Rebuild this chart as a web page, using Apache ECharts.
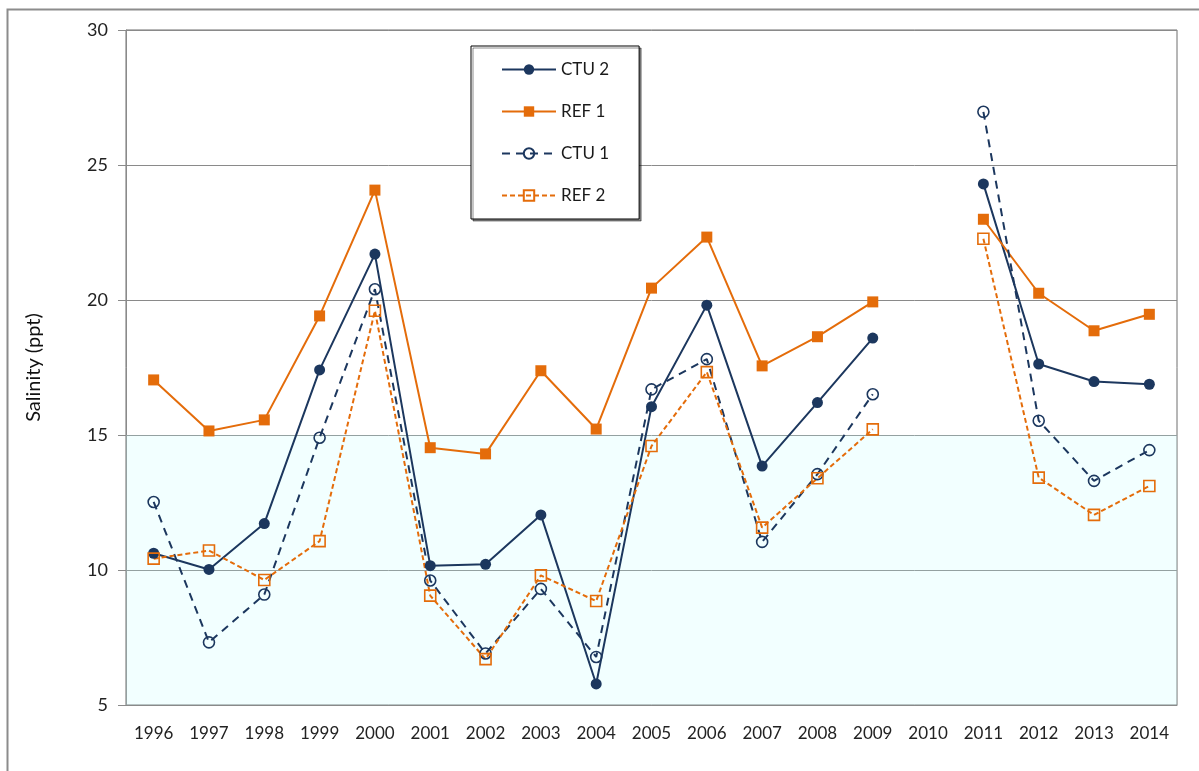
<!DOCTYPE html>
<html>
<head>
<meta charset="utf-8">
<script src="https://cdn.jsdelivr.net/npm/echarts@6/dist/echarts.min.js"></script>
<style>
html,body{margin:0;padding:0;background:#fff;}
#chart{width:1199px;height:771px;}
</style>
</head>
<body>
<div id="chart"></div>
<script>
const years = ['1996','1997','1998','1999','2000','2001','2002','2003','2004','2005','2006','2007','2008','2009','2010','2011','2012','2013','2014'];
const ctu2 = [10.62, 10.02, 11.72, 17.41, 21.70, 10.16, 10.21, 12.04, 5.78, 16.05, 19.81, 13.85, 16.20, 18.59, null, 24.30, 17.63, 16.98, 16.88];
const ref1 = [17.04, 15.15, 15.56, 19.41, 24.07, 14.53, 14.30, 17.38, 15.22, 20.44, 22.33, 17.56, 18.64, 19.93, null, 22.99, 20.25, 18.86, 19.47];
const ctu1 = [12.52, 7.32, 9.09, 14.90, 20.40, 9.61, 6.91, 9.30, 6.78, 16.69, 17.81, 11.04, 13.55, 16.51, null, 26.97, 15.53, 13.30, 14.44];
const ref2 = [10.42, 10.72, 9.63, 11.07, 19.60, 9.05, 6.70, 9.80, 8.85, 14.59, 17.33, 11.57, 13.40, 15.21, null, 22.27, 13.42, 12.04, 13.11];
const bandRange = [5, 15];

const NAVY = '#1c375e';
const ORANGE = '#e46c0a';
const FONT = 'Lato, "Open Sans", sans-serif';

const chart = echarts.init(document.getElementById('chart'), null, {renderer: 'canvas'});
chart.setOption({
  animation: false,
  backgroundColor: '#fff',
  textStyle: {fontFamily: FONT},
  graphic: [{
    type: 'rect', left: 5, top: 7, z: -10,
    shape: {width: 1260, height: 820},
    style: {fill: 'none', stroke: '#8c8c8c', lineWidth: 2}
  }],
  grid: {left: 126, right: 22, top: 30, bottom: 66, show: true, borderColor: '#6e6e6e', borderWidth: 1, backgroundColor: '#fff'},
  legend: {
    orient: 'vertical', left: 471, top: 46,
    padding: [15, 30, 15, 30],
    itemWidth: 54, itemHeight: 13, itemGap: 25,
    borderColor: '#000', borderWidth: 1, backgroundColor: '#fff',
    shadowColor: 'rgba(0,0,0,0.45)', shadowBlur: 0, shadowOffsetX: 2, shadowOffsetY: 2,
    textStyle: {fontSize: 17, color: '#1a1a1a', fontFamily: FONT},
    data: ['CTU 2', 'REF 1', 'CTU 1', 'REF 2']
  },
  xAxis: {
    type: 'category', data: years, boundaryGap: true,
    axisLine: {lineStyle: {color: '#8a8a8a', width: 1}},
    axisTick: {show: false},
    axisLabel: {fontSize: 17, color: '#222', margin: 20, interval: 0, fontFamily: FONT}
  },
  yAxis: {
    type: 'value', min: 5, max: 30, interval: 5,
    name: 'Salinity (ppt)', nameLocation: 'middle', nameGap: 82, nameRotate: 90,
    nameTextStyle: {fontSize: 20, color: '#111', fontFamily: FONT},
    axisLine: {show: true, lineStyle: {color: '#8a8a8a', width: 1}},
    axisTick: {show: true, length: 8, lineStyle: {color: '#8a8a8a'}},
    axisLabel: {fontSize: 18, color: '#222', margin: 18, fontFamily: FONT},
    splitLine: {lineStyle: {color: '#8a8a8a', width: 1}}
  },
  series: [
    {
      name: 'CTU 2', type: 'line', data: ctu2, z: 3,
      symbol: 'circle', symbolSize: 11,
      lineStyle: {color: NAVY, width: 2},
      itemStyle: {color: NAVY}
    },
    {
      name: 'REF 1', type: 'line', data: ref1, z: 3,
      symbol: 'rect', symbolSize: 11,
      lineStyle: {color: ORANGE, width: 2},
      itemStyle: {color: ORANGE}
    },
    {
      name: 'CTU 1', type: 'line', data: ctu1, z: 3,
      symbol: 'circle', symbolSize: 11,
      lineStyle: {color: NAVY, width: 2, type: [8, 6]},
      itemStyle: {color: 'rgba(255,255,255,0)', borderColor: NAVY, borderWidth: 1.6}
    },
    {
      name: 'REF 2', type: 'line', data: ref2, z: 3,
      symbol: 'rect', symbolSize: 11,
      lineStyle: {color: ORANGE, width: 2, type: [5, 3]},
      itemStyle: {color: 'rgba(255,255,255,0)', borderColor: ORANGE, borderWidth: 1.6}
    },
    {
      name: 'band', type: 'line', data: [], z: 6, silent: true,
      markArea: {
        silent: true,
        itemStyle: {color: 'rgba(190,255,255,0.2)'},
        data: [[{yAxis: bandRange[0]}, {yAxis: bandRange[1]}]]
      }
    }
  ]
});
</script>
</body>
</html>
